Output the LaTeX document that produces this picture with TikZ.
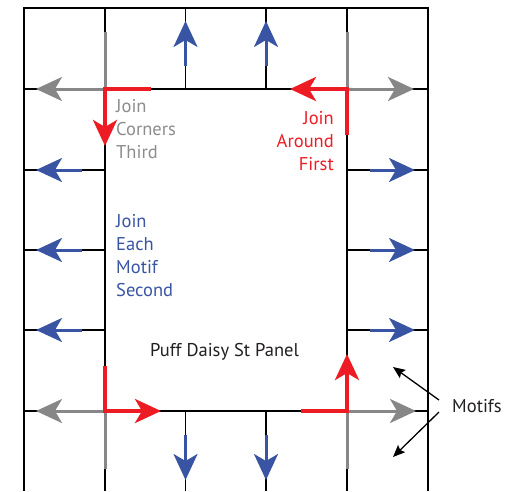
\documentclass[tikz,border=0pt]{standalone}
\usepackage{fontspec}
\setmainfont{PT Sans}
\usetikzlibrary{arrows.meta}
\definecolor{jred}{HTML}{ED1C24}
\definecolor{jblue}{HTML}{3A54A4}
\definecolor{jgray}{HTML}{878787}
\definecolor{tgray}{HTML}{8C8C8C}
\definecolor{ttext}{HTML}{231F20}
\begin{document}
\begin{tikzpicture}[x=1pt,y=-1pt,
  gridline/.style={line width=1.8pt,black},
  gline/.style={line width=3pt,jgray},
  rline/.style={line width=4pt,jred},
  bline/.style={line width=3pt,jblue},
  bigtip/.style={-{Stealth[length=26pt,width=24pt,inset=7pt]}},
  smalltip/.style={-{Stealth[length=12pt,width=10pt,inset=2pt]}},
  lbl/.style={font=\fontsize{18.5}{23}\selectfont,inner sep=0pt},
]
\useasboundingbox (0,0) rectangle (510,491);
% corners of the panel
\coordinate (TL) at (105,89);
\coordinate (TR) at (347,89);
\coordinate (BL) at (105,411);
\coordinate (BR) at (347,411);
% grid
\draw[gridline] (24,491) -- (24,8) -- (428,8) -- (428,491);
\draw[gridline] (24,89) -- (428,89);
\draw[gridline] (24,411) -- (428,411);
\foreach \y in {170,250,330} {
  \draw[gridline] (24,\y) -- (105,\y);
  \draw[gridline] (347,\y) -- (428,\y);
}
\foreach \x in {105,347} \draw[gridline] (\x,8) -- (\x,491);
\foreach \x in {185.5,266} {
  \draw[gridline] (\x,8) -- (\x,89);
  \draw[gridline] (\x,411) -- (\x,491);
}
% blue arrows (join each motif)
\foreach \x in {185.5,266} {
  \draw[bline,bigtip] (\x,66) -- (\x,21);
  \draw[bline,bigtip] (\x,435) -- (\x,480);
}
\foreach \y in {170,250,330} {
  \draw[bline,bigtip] (82,\y) -- (36,\y);
  \draw[bline,bigtip] (370,\y) -- (415,\y);
}
% gray arrows (join corners)
\draw[gline] (105,32) -- (TL);
\draw[gline,bigtip] (TL) -- (36,89);
\draw[gline] (347,32) -- (TR);
\draw[gline,bigtip] (TR) -- (414,89);
\draw[gline] (BL) -- (105,469);
\draw[gline,bigtip] (BL) -- (36,411);
\draw[gline] (BR) -- (347,469);
\draw[gline,bigtip] (BR) -- (416,411);
% red arrows (join around)
\draw[rline,bigtip] (151,89) -- (TL) -- (105,146);
\draw[rline,bigtip] (347,135) -- (TR) -- (290,89);
\draw[rline,bigtip] (105,366) -- (BL) -- (161,411);
\draw[rline,bigtip] (301,411) -- (BR) -- (347,354);
% texts
\node[lbl,text=tgray,anchor=base west] (g1) at (116,112) {Join};
\node[lbl,text=tgray,anchor=base west] (g2) at (116,135) {Corners};
\node[lbl,text=tgray,anchor=base west] (g3) at (116,158) {Third};
\node[lbl,text=jred,anchor=base east] (r1) at (334,124) {Join};
\node[lbl,text=jred,anchor=base east] (r2) at (334,147) {Around};
\node[lbl,text=jred,anchor=base east] (r3) at (334,170) {First};
\node[lbl,text=jblue,anchor=base west] (b1) at (116,227) {Join};
\node[lbl,text=jblue,anchor=base west] (b2) at (116,250) {Each};
\node[lbl,text=jblue,anchor=base west] (b3) at (116,273) {Motif};
\node[lbl,text=jblue,anchor=base west] (b4) at (116,296) {Second};
\node[lbl,text=ttext,anchor=base] (panel) at (224.5,356) {Puff Daisy St Panel};
\node[lbl,text=ttext,anchor=base west] (motifs) at (452,412) {Motifs};
% motif pointers
\coordinate (m1) at (393,367);
\coordinate (m2) at (393,457);
\draw[line width=1.3pt,smalltip] (439,400) -- (m1);
\draw[line width=1.3pt,smalltip] (439,412) -- (m2);
\end{tikzpicture}
\end{document}
